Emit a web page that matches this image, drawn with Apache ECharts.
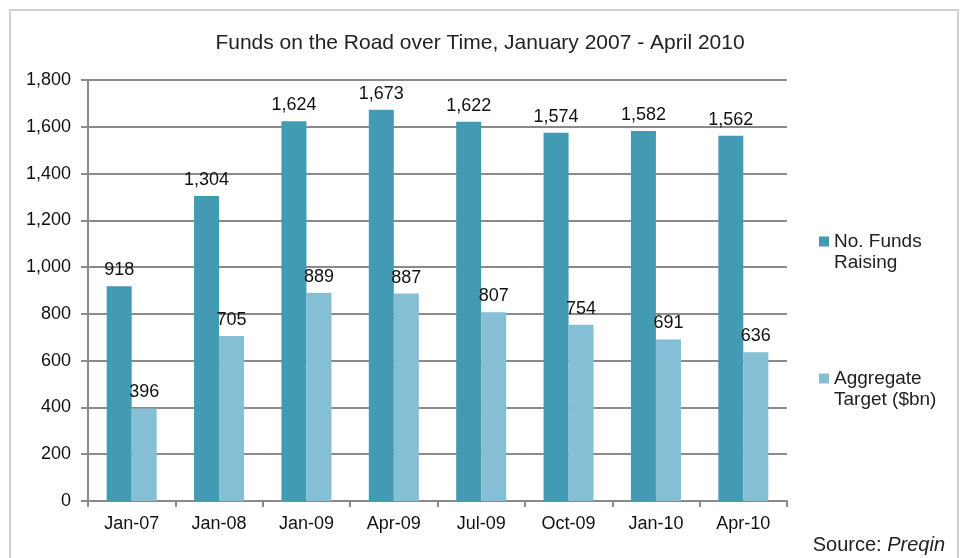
<!DOCTYPE html>
<html>
<head>
<meta charset="utf-8">
<script src="https://cdn.jsdelivr.net/npm/echarts@6/dist/echarts.min.js"></script>
<style>
  html, body { margin: 0; padding: 0; background: #fff; }
  #chart { width: 962px; height: 558px; }
</style>
</head>
<body>
<div id="chart"></div>
<script>
const categories = ['Jan-07', 'Jan-08', 'Jan-09', 'Apr-09', 'Jul-09', 'Oct-09', 'Jan-10', 'Apr-10']
const fundsRaising = [918, 1304, 1624, 1673, 1622, 1574, 1582, 1562]
const aggregateTarget = [396, 705, 889, 887, 807, 754, 691, 636]

const font = 'Liberation Sans, Arial, sans-serif'
const gray = '#8a8a8e'

const chart = echarts.init(document.getElementById('chart'))

const barLabel = {
  show: true,
  position: 'top',
  distance: 7,
  color: '#111',
  fontFamily: font,
  fontSize: 18,
  formatter: p => p.value.toLocaleString('en-US')
}

chart.setOption({
  animation: false,
  title: {
    text: 'Funds on the Road over Time, January 2007 - April 2010',
    left: 475,
    top: 28,
    textAlign: 'center',
    textStyle: { fontFamily: font, fontSize: 21, fontWeight: 'normal', color: '#222' }
  },
  legend: {
    orient: 'vertical',
    left: 814,
    top: 205,
    itemWidth: 10,
    itemHeight: 10,
    itemGap: 74,
    icon: 'rect',
    textStyle: {
      fontFamily: font,
      fontSize: 19,
      color: '#222',
      lineHeight: 21
    },
    // leading blank line keeps the square level with the first text line
    formatter: name => name === 'No. Funds Raising' ? '\nNo. Funds\nRaising' : '\nAggregate\nTarget ($bn)'
  },
  grid: { left: 88, right: 175, top: 80, bottom: 57 },
  xAxis: {
    type: 'category',
    data: categories,
    axisLine: { lineStyle: { color: gray, width: 2 } },
    axisTick: { show: true, length: 6, lineStyle: { color: gray, width: 2 } },
    axisLabel: { color: '#111', fontFamily: font, fontSize: 18, margin: 14 }
  },
  yAxis: {
    type: 'value',
    min: 0,
    max: 1800,
    interval: 200,
    axisLine: { show: true, lineStyle: { color: gray, width: 2 } },
    axisTick: { show: true, length: 7, lineStyle: { color: gray, width: 2 } },
    axisLabel: {
      color: '#111',
      fontFamily: font,
      fontSize: 18,
      margin: 17,
      formatter: v => v.toLocaleString('en-US')
    },
    splitLine: { lineStyle: { color: gray, width: 2 } }
  },
  series: [
    {
      name: 'No. Funds Raising',
      type: 'bar',
      data: fundsRaising,
      barWidth: 25,
      barGap: '0%',
      itemStyle: { color: '#439bb3' },
      label: barLabel
    },
    {
      name: 'Aggregate Target ($bn)',
      type: 'bar',
      data: aggregateTarget,
      barWidth: 25,
      itemStyle: { color: '#84bfd5' },
      label: barLabel
    }
  ],
  graphic: [
    {
      type: 'polyline',
      shape: { points: [[10, 600], [10, 10], [958, 10], [958, 600]] },
      style: { stroke: '#d0d0d0', lineWidth: 2, fill: null }
    },
    {
      type: 'text',
      right: 17,
      top: 535,
      style: {
        text: '{a|Source: }{b|Preqin}',
        rich: {
          a: { fontFamily: font, fontSize: 20, fill: '#222' },
          b: { fontFamily: font, fontSize: 20, fill: '#222', fontStyle: 'italic' }
        }
      }
    }
  ]
})
</script>
</body>
</html>
